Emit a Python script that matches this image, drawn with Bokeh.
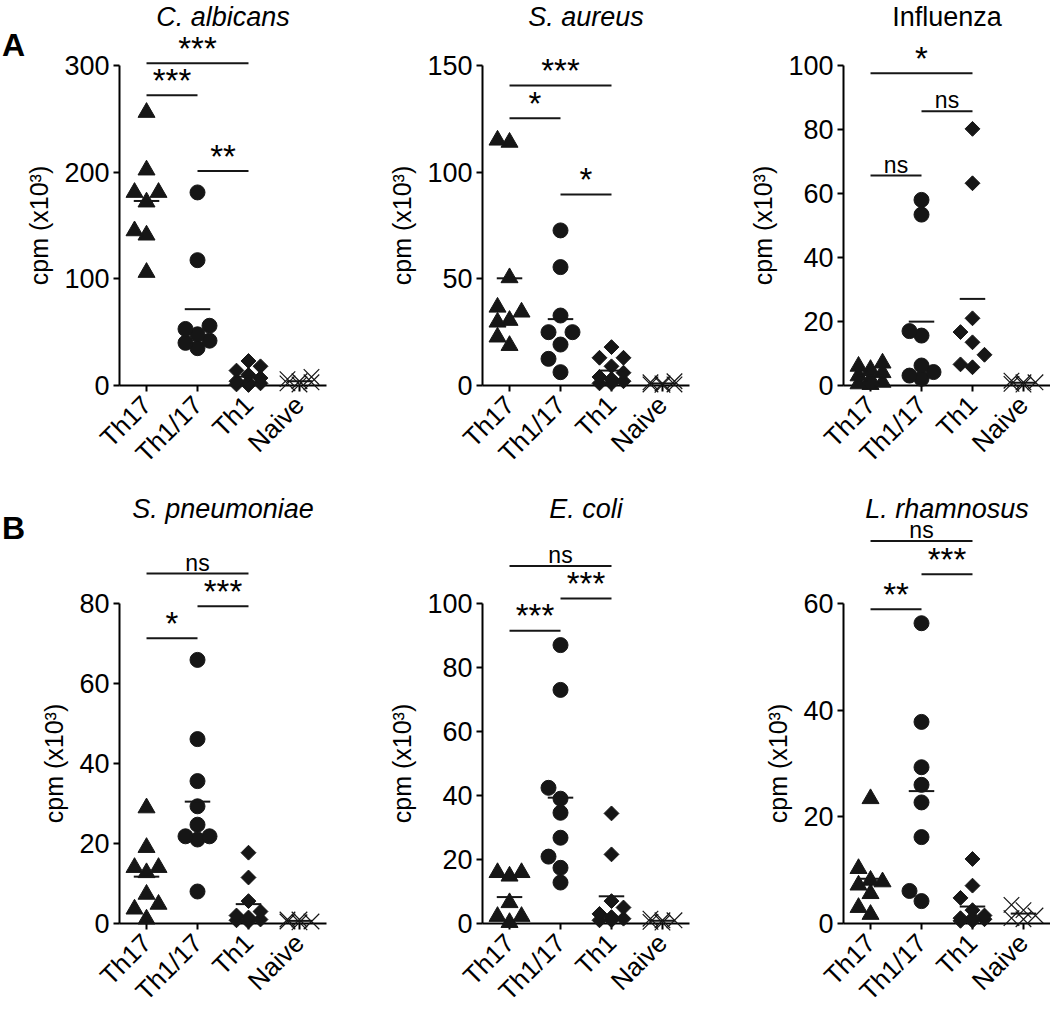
import math
from bokeh.plotting import figure
from bokeh.layouts import column, row
from bokeh.models import FixedTicker, Range1d
from bokeh.core.properties import value
from bokeh.embed import file_html
from bokeh.resources import INLINE

FONT = "Liberation Sans"
INK = "#161616"

# ---------------- data (cpm x10^3) ----------------
categories = ["Th17", "Th1/17", "Th1", "Naive"]

# A: C. albicans
ca_th17 = [106, 141, 145, 172, 181, 181, 202, 256]
ca_th1_17 = [35, 40, 42, 48, 53, 56, 117.5, 181]
ca_th1 = [0.5, 1, 2, 3, 4, 7, 10, 14, 18, 23]
ca_naive = [1, 2, 3, 4, 6, 8]
ca_ticks = [0, 100, 200, 300]
ca_sig = [(0, 2, 302, "***"), (0, 1, 272, "***"), (1, 2, 201, "**")]

# A: S. aureus
sa_th17 = [18.75, 30.5, 29.7, 22.7, 36.7, 34.4, 50.5, 114, 115]
sa_th1_17 = [6.25, 12.5, 19.2, 25, 25, 32.8, 55.5, 72.7]
sa_th1 = [1, 1, 2, 3, 4, 6, 9, 13, 13, 18]
sa_naive = [0.3, 0.5, 0.5, 1, 1.5, 2]
sa_ticks = [0, 50, 100, 150]
sa_sig = [(0, 2, 140.6, "***"), (0, 1, 125.3, "*"), (1, 2, 89.5, "*")]

# A: Influenza
in_th17 = [0.3, 0.5, 1, 2, 3, 4, 5, 6, 7]
in_th1_17 = [2.1, 3.1, 4.2, 6.25, 15.6, 17, 53.4, 58]
in_th1 = [5.7, 6.6, 9.6, 13.5, 16.7, 21, 63.2, 80.2]
in_naive = [0.3, 0.5, 1, 1, 1.5]
in_ticks = [0, 20, 40, 60, 80, 100]
in_sig = [(0, 2, 97.6, "*"), (1, 2, 85.7, "ns"), (0, 1, 65.6, "ns")]

# B: S. pneumoniae
sp_th17 = [1.1, 3.6, 4.8, 7.3, 12.7, 14, 14, 19, 28.9]
sp_th1_17 = [8, 21, 21.8, 21.8, 24.7, 29.3, 35.6, 46.1, 65.9]
sp_th1 = [0.5, 0.8, 1, 1.5, 2, 3, 5.6, 11.5, 17.7]
sp_naive = [0.3, 0.5, 0.5, 1, 1]
sp_ticks = [0, 20, 40, 60, 80]
sp_sig = [(0, 2, 87.5, "ns"), (1, 2, 79.3, "***"), (0, 1, 71.3, "*")]

# B: E. coli
ec_th17 = [0.3, 2.2, 2.2, 6.5, 14.8, 15.9, 15.9]
ec_th1_17 = [12.8, 17.4, 20.9, 26.8, 34.6, 39, 42.4, 73, 87]
ec_th1 = [1, 1, 1.5, 2, 3, 5, 7, 21.6, 34.4]
ec_naive = [0.3, 0.5, 1, 1, 1.5]
ec_ticks = [0, 20, 40, 60, 80, 100]
ec_sig = [(0, 2, 111.7, "ns"), (1, 2, 101.6, "***"), (0, 1, 91.5, "***")]

# B: L. rhamnosus
lr_th17 = [1.7, 3.0, 5.6, 7.2, 7.8, 8.1, 10.3, 23.4]
lr_th1_17 = [4.2, 6.1, 16.2, 22.7, 26.0, 29.3, 37.8, 56.3]
lr_th1 = [0.5, 0.5, 0.8, 1, 1, 1.5, 2.5, 4.8, 7.1, 12.1]
lr_naive = [0.8, 1, 1.5, 2.5, 3.5]
lr_ticks = [0, 20, 40, 60]
lr_sig = [(0, 2, 71.7, "ns"), (1, 2, 65.5, "***"), (0, 1, 58.9, "**")]

# ---------------- layout constants ----------------
X0, X1 = 0.47, 4.53
FW, FH = 207, 320
KX = FW / (X1 - X0)
STEP_PX = 12.0
DMIN = 14.0
MB_LEFT = [119, 111, 111]
MB_RIGHT = [45, 43, 0]
ROW_TOP = [65, 121]
MB_BOTTOM = 97
TITLE_ABOVE = [49, 95]     # px above frame top
LETTER_ABOVE = [21, 76]
LETTER_LEFT = 106          # px left of y axis


def swarm(vals, k):
    placed, offs = [], []
    for v in vals:
        y = v * k
        best, bestc, bestd = None, 0, -1.0
        for c in (0, -1, 1):
            x = c * STEP_PX
            d = min([math.hypot(x - px, y - py) for px, py in placed], default=1e9)
            if d >= DMIN:
                best = c
                break
            if d > bestd:
                bestd, bestc = d, c
        if best is None:
            best = bestc
        placed.append((best * STEP_PX, y))
        offs.append(best * STEP_PX / KX)
    return offs


def panel(title, groups, ticks, sigs, col, rowi, letter=None):
    ytop = ticks[-1]
    k = FH / ytop
    p = figure(frame_width=FW, frame_height=FH,
               x_range=Range1d(X0, X1), y_range=Range1d(0, ytop),
               output_backend="svg", toolbar_location=None,
               min_border_left=MB_LEFT[col], min_border_right=MB_RIGHT[col],
               min_border_top=ROW_TOP[rowi], min_border_bottom=MB_BOTTOM)
    p.outline_line_color = None
    p.xgrid.visible = False
    p.ygrid.visible = False
    p.background_fill_color = "white"
    p.border_fill_color = "white"

    # axes
    p.xaxis.ticker = FixedTicker(ticks=[1, 2, 3, 4])
    p.xaxis.major_label_overrides = {i + 1: c for i, c in enumerate(categories)}
    p.xaxis.major_label_orientation = math.pi / 4
    p.yaxis.ticker = FixedTicker(ticks=ticks)
    for ax in (p.xaxis, p.yaxis):
        ax.axis_line_width = 2
        ax.axis_line_color = "black"
        ax.major_tick_line_width = 2
        ax.major_tick_line_color = "black"
        ax.major_tick_out = 6
        ax.major_tick_in = 0
        ax.minor_tick_line_color = None
        ax.major_label_text_font = FONT
        ax.major_label_text_font_size = "27px"
        ax.major_label_text_color = "black"
        ax.major_label_standoff = 4
    p.xaxis.major_label_text_font_size = "26px"
    p.xaxis.major_label_standoff = 9
    p.yaxis.axis_label = "cpm (x10³)"
    p.yaxis.axis_label_text_font = FONT
    p.yaxis.axis_label_text_font_style = "normal"
    p.yaxis.axis_label_text_font_size = "25px"
    p.yaxis.axis_label_text_color = "black"
    p.yaxis.axis_label_standoff = 8

    markers = ["triangle", "circle", "square", "x"]
    sizes = [17, 15, 10.5, 22]
    angles = [0, 0, math.pi / 4, 0]
    for i, vals in enumerate(groups):
        offs = swarm(vals, k)
        xs = [i + 1 + o for o in offs]
        if markers[i] == "x":
            p.scatter(xs, vals, marker="x", size=sizes[i], line_color=INK,
                      line_width=1.2, level="overlay")
        else:
            p.scatter(xs, vals, marker=markers[i], size=sizes[i], angle=angles[i],
                      fill_color=INK, line_color=INK, line_width=1, level="overlay")
        m = sum(vals) / len(vals)
        p.segment(x0=[i + 1 - 0.25], x1=[i + 1 + 0.25], y0=[m], y1=[m],
                  line_color=INK, line_width=2, level="overlay")

    # significance bars
    for a, b, y, lab in sigs:
        p.segment(x0=[a + 1], x1=[b + 1], y0=[y], y1=[y], line_color=INK,
                  line_width=2, level="overlay")
        star = "*" in lab
        p.text(x=[(a + b) / 2 + 1], y=[y], text=[lab],
               text_font=value(FONT), text_font_size="33px" if star else "23px",
               text_align="center", text_baseline="alphabetic",
               y_offset=-15 if star else -11, text_color="black", level="overlay")

    # title
    p.text(x=[(X0 + X1) / 2], y=[ytop + TITLE_ABOVE[rowi] / k], text=[title],
           text_font=value(FONT),
           text_font_style="normal" if title == "Influenza" else "italic",
           text_font_size="27px", text_align="center", text_baseline="middle",
           text_color="black", level="overlay")
    if letter:
        p.text(x=[X0 - LETTER_LEFT / KX], y=[ytop + LETTER_ABOVE[rowi] / k],
               text=[letter], text_font=value(FONT), text_font_style="bold",
               text_font_size="32px", text_align="center", text_baseline="middle",
               text_color="black", level="overlay")
    return p


pA1 = panel("C. albicans", [ca_th17, ca_th1_17, ca_th1, ca_naive], ca_ticks, ca_sig, 0, 0, "A")
pA2 = panel("S. aureus", [sa_th17, sa_th1_17, sa_th1, sa_naive], sa_ticks, sa_sig, 1, 0)
pA3 = panel("Influenza", [in_th17, in_th1_17, in_th1, in_naive], in_ticks, in_sig, 2, 0)
pB1 = panel("S. pneumoniae", [sp_th17, sp_th1_17, sp_th1, sp_naive], sp_ticks, sp_sig, 0, 1, "B")
pB2 = panel("E. coli", [ec_th17, ec_th1_17, ec_th1, ec_naive], ec_ticks, ec_sig, 1, 1)
pB3 = panel("L. rhamnosus", [lr_th17, lr_th1_17, lr_th1, lr_naive], lr_ticks, lr_sig, 2, 1)

layout = column(row(pA1, pA2, pA3), row(pB1, pB2, pB3))
open("out.html", "w").write(file_html(layout, INLINE))
